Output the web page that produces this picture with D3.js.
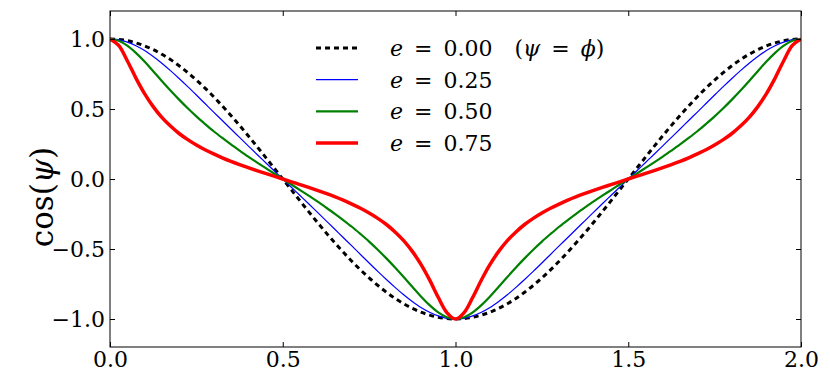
<!DOCTYPE html>
<html>
<head>
<meta charset="utf-8">
<script src="https://cdn.jsdelivr.net/npm/d3@7"></script>
<style>
  body { margin: 0; background: #fff; }
</style>
</head>
<body>
<div id="chart"></div>
<script>
// phi / pi sample positions, 0 .. 2 every 0.025
const phiSteps = d3.range(81).map(i => i * 0.025);

// cos(psi), one value per sample position
const cosE000 = [1, 0.997, 0.988, 0.972, 0.951, 0.924, 0.891, 0.853, 0.809, 0.760, 0.707, 0.649, 0.588, 0.522, 0.454, 0.383, 0.309, 0.233, 0.156, 0.078, 0,
  -0.078, -0.156, -0.233, -0.309, -0.383, -0.454, -0.522, -0.588, -0.649, -0.707, -0.760, -0.809, -0.853, -0.891, -0.924, -0.951, -0.972, -0.988, -0.997, -1,
  -0.997, -0.988, -0.972, -0.951, -0.924, -0.891, -0.853, -0.809, -0.760, -0.707, -0.649, -0.588, -0.522, -0.454, -0.383, -0.309, -0.233, -0.156, -0.078, 0,
  0.078, 0.156, 0.233, 0.309, 0.383, 0.454, 0.522, 0.588, 0.649, 0.707, 0.760, 0.809, 0.853, 0.891, 0.924, 0.951, 0.972, 0.988, 0.997, 1];
const cosE025 = [1, 0.995, 0.978, 0.952, 0.918, 0.875, 0.827, 0.774, 0.718, 0.660, 0.600, 0.539, 0.478, 0.418, 0.357, 0.297, 0.237, 0.177, 0.118, 0.059, 0,
  -0.059, -0.118, -0.177, -0.237, -0.297, -0.357, -0.418, -0.478, -0.539, -0.600, -0.660, -0.718, -0.774, -0.827, -0.875, -0.918, -0.952, -0.978, -0.995, -1,
  -0.995, -0.978, -0.952, -0.918, -0.875, -0.827, -0.774, -0.718, -0.660, -0.600, -0.539, -0.478, -0.418, -0.357, -0.297, -0.237, -0.177, -0.118, -0.059, 0,
  0.059, 0.118, 0.177, 0.237, 0.297, 0.357, 0.418, 0.478, 0.539, 0.600, 0.660, 0.718, 0.774, 0.827, 0.875, 0.918, 0.952, 0.978, 0.995, 1];
const cosE050 = [1, 0.988, 0.953, 0.901, 0.839, 0.770, 0.700, 0.632, 0.567, 0.505, 0.447, 0.393, 0.341, 0.293, 0.247, 0.203, 0.160, 0.119, 0.079, 0.039, 0,
  -0.039, -0.079, -0.119, -0.160, -0.203, -0.247, -0.293, -0.341, -0.393, -0.447, -0.505, -0.567, -0.632, -0.700, -0.770, -0.839, -0.901, -0.953, -0.988, -1,
  -0.988, -0.953, -0.901, -0.839, -0.770, -0.700, -0.632, -0.567, -0.505, -0.447, -0.393, -0.341, -0.293, -0.247, -0.203, -0.160, -0.119, -0.079, -0.039, 0,
  0.039, 0.079, 0.119, 0.160, 0.203, 0.247, 0.293, 0.341, 0.393, 0.447, 0.505, 0.567, 0.632, 0.700, 0.770, 0.839, 0.901, 0.953, 0.988, 1];
const cosE075 = [1, 0.954, 0.845, 0.721, 0.610, 0.517, 0.440, 0.378, 0.325, 0.281, 0.243, 0.209, 0.179, 0.151, 0.126, 0.103, 0.081, 0.060, 0.040, 0.020, 0,
  -0.020, -0.040, -0.060, -0.081, -0.103, -0.126, -0.151, -0.179, -0.209, -0.243, -0.281, -0.325, -0.378, -0.440, -0.517, -0.610, -0.721, -0.845, -0.954, -1,
  -0.954, -0.845, -0.721, -0.610, -0.517, -0.440, -0.378, -0.325, -0.281, -0.243, -0.209, -0.179, -0.151, -0.126, -0.103, -0.081, -0.060, -0.040, -0.020, 0,
  0.020, 0.040, 0.060, 0.081, 0.103, 0.126, 0.151, 0.179, 0.209, 0.243, 0.281, 0.325, 0.378, 0.440, 0.517, 0.610, 0.721, 0.845, 0.954, 1];

const eLabels = ["0.00", "0.25", "0.50", "0.75"];
const xTicks = [0, 0.5, 1, 1.5, 2];
const yTicks = [-1, -0.5, 0, 0.5, 1];

const series = [
  { e: eLabels[0], values: cosE000, color: "#000000", width: 3, dash: "5,4", note: true },
  { e: eLabels[1], values: cosE025, color: "#0000ff", width: 1.2, dash: null },
  { e: eLabels[2], values: cosE050, color: "#008000", width: 2.2, dash: null },
  { e: eLabels[3], values: cosE075, color: "#ff0000", width: 3.5, dash: null }
];

var W = 830, H = 389;
var margin = { top: 11, right: 29, bottom: 42, left: 110 };
var serif = "'DejaVu Serif', serif";

var svg = d3.select("#chart").append("svg")
  .attr("width", W)
  .attr("height", H)
  .style("font-family", serif);

var x = d3.scaleLinear().domain([0, 2]).range([margin.left, W - margin.right]);
var y = d3.scaleLinear().domain([-1.2, 1.2]).range([H - margin.bottom, margin.top]);

var fmt = d => d3.format(".1f")(d).replace("-", "\u2212");

// curves
var line = d3.line()
  .x((d, i) => x(phiSteps[i]))
  .y(d => y(d))
  .curve(d3.curveCatmullRom);

var plot = svg.append("g");
plot.append("clipPath").attr("id", "clip")
  .append("rect")
  .attr("x", x(0)).attr("y", y(1.2))
  .attr("width", x(2) - x(0)).attr("height", y(-1.2) - y(1.2));

plot.selectAll("path.curve")
  .data(series)
  .enter()
  .append("path")
  .attr("class", "curve")
  .attr("clip-path", "url(#clip)")
  .attr("d", d => line(d.values))
  .attr("fill", "none")
  .attr("stroke", d => d.color)
  .attr("stroke-width", d => d.width)
  .attr("stroke-dasharray", d => d.dash);

// axes, ticks pointing inward on all four sides
var tickLen = 5;
function styleLabels(g) {
  g.attr("font-family", null).attr("font-size", null);
  g.selectAll("text").style("font-family", serif).style("font-size", "22px").attr("fill", "#000");
  g.selectAll("line").attr("stroke", "#000");
}
svg.append("g")
  .attr("transform", "translate(0," + y(-1.2) + ")")
  .call(d3.axisBottom(x).tickValues(xTicks).tickFormat(fmt).tickSizeInner(-tickLen).tickSizeOuter(0).tickPadding(4))
  .call(g => g.select(".domain").remove())
  .call(styleLabels);
svg.append("g")
  .attr("transform", "translate(0," + y(1.2) + ")")
  .call(d3.axisTop(x).tickValues(xTicks).tickFormat("").tickSizeInner(-tickLen).tickSizeOuter(0))
  .call(g => g.select(".domain").remove());
svg.append("g")
  .attr("transform", "translate(" + x(0) + ",0)")
  .call(d3.axisLeft(y).tickValues(yTicks).tickFormat(fmt).tickSizeInner(-tickLen).tickSizeOuter(0).tickPadding(5))
  .call(g => g.select(".domain").remove())
  .call(styleLabels);
svg.append("g")
  .attr("transform", "translate(" + x(2) + ",0)")
  .call(d3.axisRight(y).tickValues(yTicks).tickFormat("").tickSizeInner(-tickLen).tickSizeOuter(0))
  .call(g => g.select(".domain").remove());

svg.append("rect")
  .attr("x", x(0)).attr("y", y(1.2))
  .attr("width", x(2) - x(0)).attr("height", y(-1.2) - y(1.2))
  .attr("fill", "none")
  .attr("stroke", "#000")
  .attr("stroke-width", 1);

// y label
var yl = svg.append("text")
  .attr("transform", "translate(53," + 197 + ") rotate(-90)")
  .attr("text-anchor", "middle")
  .style("font-family", serif)
  .style("font-size", "31px");
yl.append("tspan").text("cos(");
yl.append("tspan").style("font-style", "italic").text("\u03c8");
yl.append("tspan").text(")");

// legend, no frame
var legend = svg.append("g").attr("transform", "translate(316,48)");
var rows = legend.selectAll("g")
  .data(series)
  .enter()
  .append("g")
  .attr("transform", (d, i) => "translate(0," + i * 31.7 + ")");
rows.append("line")
  .attr("x1", 0).attr("x2", 42)
  .attr("stroke", d => d.color)
  .attr("stroke-width", d => d.width)
  .attr("stroke-dasharray", d => d.dash);
var sp = "\u2002";
var lt = rows.append("text")
  .attr("x", 74)
  .attr("y", 8)
  .style("font-family", serif)
  .style("font-size", "22px")
  .style("white-space", "pre");
lt.append("tspan").style("font-style", "italic").text("e");
lt.append("tspan").text(d => sp + "=" + sp + d.e);
lt.filter(d => d.note).each(function () {
  var t = d3.select(this);
  t.append("tspan").text(sp + sp + "(");
  t.append("tspan").style("font-style", "italic").text("\u03c8");
  t.append("tspan").text(sp + "=" + sp);
  t.append("tspan").style("font-style", "italic").text("\u03d5");
  t.append("tspan").text(")");
});
</script>
</body>
</html>
